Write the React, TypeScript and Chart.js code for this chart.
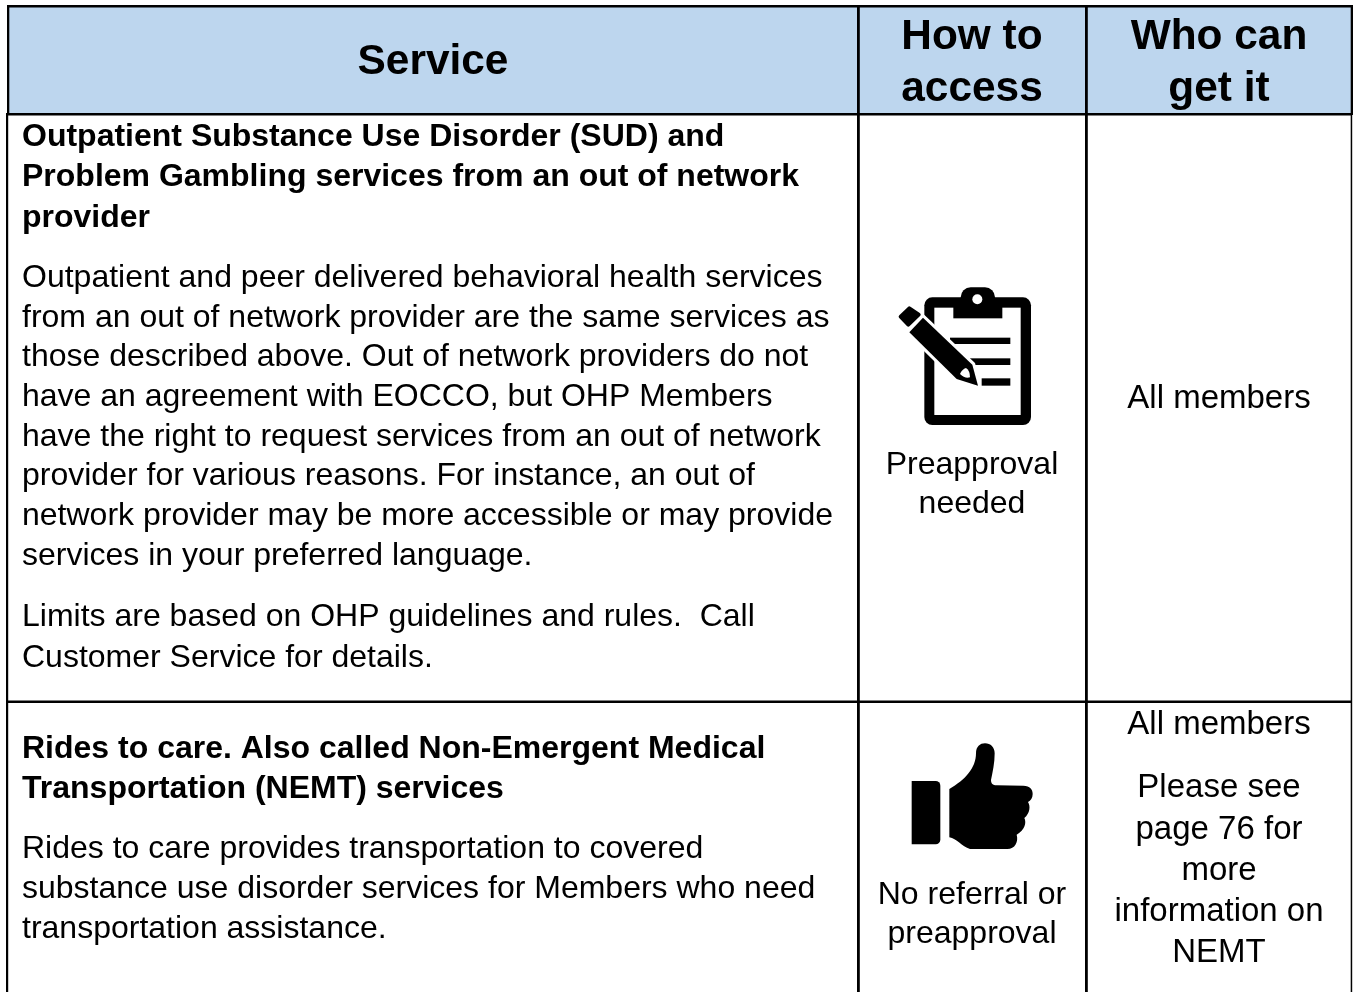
import React, { useEffect, useRef } from "react";
import { Chart, registerables } from "chart.js";

Chart.register(...registerables);

// Table content (text only)
const headerService = ["Service"];
const headerAccess = ["How to", "access"];
const headerWho = ["Who can", "get it"];
const sudTitle = [
  "Outpatient Substance Use Disorder (SUD) and",
  "Problem Gambling services from an out of network",
  "provider",
];
const sudBody = [
  "Outpatient and peer delivered behavioral health services",
  "from an out of network provider are the same services as",
  "those described above. Out of network providers do not",
  "have an agreement with EOCCO, but OHP Members",
  "have the right to request services from an out of network",
  "provider for various reasons. For instance, an out of",
  "network provider may be more accessible or may provide",
  "services in your preferred language.",
];
const sudLimits = ["Limits are based on OHP guidelines and rules.  Call", "Customer Service for details."];
const sudAccess = ["Preapproval", "needed"];
const sudWho = ["All members"];
const ridesTitle = ["Rides to care. Also called Non-Emergent Medical", "Transportation (NEMT) services"];
const ridesBody = [
  "Rides to care provides transportation to covered",
  "substance use disorder services for Members who need",
  "transportation assistance.",
];
const ridesAccess = ["No referral or", "preapproval"];
const ridesWho = ["All members"];
const ridesNote = ["Please see", "page 76 for", "more", "information on", "NEMT"];

const FONT = '"Liberation Sans", Arial, sans-serif';
const BODY = `32px ${FONT}`;
const WHO = `33px ${FONT}`;
const BOLD = `bold 32px ${FONT}`;
const HEAD = `bold 42.4px ${FONT}`;

type Block = { lines: string[]; x: number; ys: number[]; font: string; align: CanvasTextAlign };
const blocks: Block[] = [
  { lines: headerService, x: 433, ys: [74], font: HEAD, align: "center" },
  { lines: headerAccess, x: 972, ys: [49, 101], font: HEAD, align: "center" },
  { lines: headerWho, x: 1219, ys: [49, 101], font: HEAD, align: "center" },
  { lines: sudTitle, x: 22, ys: [146, 186, 227], font: BOLD, align: "left" },
  { lines: sudBody, x: 22, ys: [287, 327, 366, 406, 446, 485, 525, 565], font: BODY, align: "left" },
  { lines: sudLimits, x: 22, ys: [626, 667], font: BODY, align: "left" },
  { lines: sudAccess, x: 972, ys: [473.5, 513], font: BODY, align: "center" },
  { lines: sudWho, x: 1219, ys: [408], font: WHO, align: "center" },
  { lines: ridesTitle, x: 22, ys: [758, 798], font: BOLD, align: "left" },
  { lines: ridesBody, x: 22, ys: [858, 898, 938], font: BODY, align: "left" },
  { lines: ridesAccess, x: 972, ys: [904, 943], font: BODY, align: "center" },
  { lines: ridesWho, x: 1219, ys: [734], font: WHO, align: "center" },
  { lines: ridesNote, x: 1219, ys: [797, 839, 880, 921, 962], font: WHO, align: "center" },
];

function drawClipboard(ctx: CanvasRenderingContext2D) {
  ctx.save();
  ctx.translate(870, 270);
  ctx.scale(1 / 3, 1 / 3);
  ctx.fillStyle = "#000";
  ctx.beginPath();
  ctx.roundRect(163, 82, 320, 383, 24);
  ctx.fill();
  ctx.fillStyle = "#fff";
  ctx.fillRect(193, 113, 259, 322);
  ctx.fillStyle = "#000";
  ctx.beginPath();
  ctx.roundRect(272, 52, 103, 70, [30, 30, 0, 0]);
  ctx.fill();
  ctx.fillRect(250, 100, 147, 45);
  ctx.fillStyle = "#fff";
  ctx.beginPath();
  ctx.arc(322, 88, 15, 0, Math.PI * 2);
  ctx.fill();
  ctx.fillStyle = "#000";
  ctx.fillRect(240, 203, 181, 19);
  ctx.fillRect(300, 265, 121, 20);
  ctx.fillRect(335, 325, 86, 22);
  // pencil
  const body = new Path2D("M118 187 L159 143 L307 284 L324 347 L260 327 Z");
  ctx.strokeStyle = "#fff";
  ctx.lineWidth = 18;
  ctx.lineJoin = "miter";
  ctx.stroke(body);
  ctx.fillStyle = "#000";
  ctx.fill(body);
  ctx.fillStyle = "#fff";
  ctx.fill(new Path2D("M270 312 Q276 298 288 294 Q300 302 300 322 Q284 326 270 312 Z"));
  ctx.fillStyle = "#000";
  ctx.lineJoin = "round";
  ctx.strokeStyle = "#000";
  ctx.lineWidth = 12;
  const eraser = new Path2D("M92 140 L118 115 L146 134 L115 164 Z");
  ctx.stroke(eraser);
  ctx.fill(eraser);
  ctx.restore();
}

function drawThumb(ctx: CanvasRenderingContext2D) {
  ctx.save();
  ctx.translate(890, 730);
  ctx.scale(1 / 3, 1 / 3);
  ctx.fillStyle = "#000";
  ctx.beginPath();
  ctx.roundRect(65, 153, 86, 190, [0, 14, 14, 0]);
  ctx.fill();
  ctx.fill(
    new Path2D(
      "M178 177 C225 150 258 115 258 70 C258 50 270 40 285 40 C302 40 314 52 314 70 C314 100 308 125 303 150 C303 160 308 166 320 166 L400 167 C420 167 428 178 428 192 C428 204 422 212 414 216 C422 228 420 250 403 264 C410 278 405 300 380 314 C386 335 375 357 352 357 L240 357 C215 350 200 325 178 322 Z"
    )
  );
  ctx.restore();
}

const tablePlugin = {
  id: "tablePlugin",
  afterDraw(chart: Chart) {
    const ctx = chart.ctx;
    ctx.save();
    ctx.fillStyle = "#BDD6EE";
    ctx.fillRect(8, 6, 1344, 108);
    ctx.fillStyle = "#000";
    // horizontal rules
    ctx.fillRect(7, 5, 1346, 2.5);
    ctx.fillRect(6, 113, 1346, 2.5);
    ctx.fillRect(6, 700.5, 1346, 2.5);
    // outer verticals
    ctx.fillRect(7, 5, 2.3, 110);
    ctx.fillRect(6, 114, 2.2, 878);
    ctx.fillRect(1350.7, 5, 2.3, 110);
    ctx.fillRect(1350.7, 114, 1.5, 878);
    // column rules
    ctx.fillRect(857, 5, 2.8, 987);
    ctx.fillRect(1085, 5, 2.8, 987);

    ctx.textBaseline = "alphabetic";
    for (const b of blocks) {
      ctx.font = b.font;
      ctx.textAlign = b.align;
      b.lines.forEach((line, i) => ctx.fillText(line, b.x, b.ys[i]));
    }
    drawClipboard(ctx);
    drawThumb(ctx);
    ctx.restore();
  },
};

export default function App() {
  const ref = useRef<HTMLCanvasElement>(null);
  useEffect(() => {
    document.body.style.margin = "0";
    document.body.style.background = "#fff";
    const chart = new Chart(ref.current!, {
      type: "bar",
      data: { labels: [], datasets: [] },
      options: {
        animation: false,
        responsive: false,
        plugins: { legend: { display: false }, tooltip: { enabled: false }, title: { display: false } },
        scales: { x: { display: false }, y: { display: false } },
      },
      plugins: [tablePlugin],
    });
    return () => chart.destroy();
  }, []);
  return <canvas ref={ref} width={1353} height={992} style={{ display: "block" }} />;
}
